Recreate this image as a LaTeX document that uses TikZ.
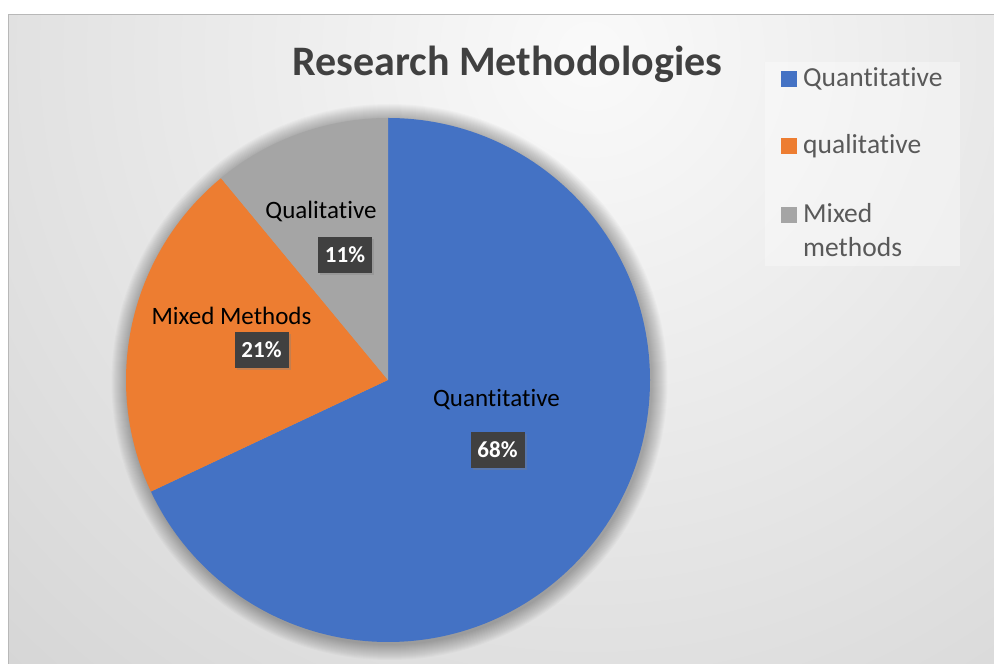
\documentclass[tikz,border=0pt]{standalone}
\usepackage{fontspec}
\setmainfont{Carlito}[RawFeature={-liga;-clig;-dlig;-calt}]
\usetikzlibrary{shadows,calc}
\definecolor{cblue}{HTML}{4472C4}
\definecolor{corange}{HTML}{ED7D31}
\definecolor{cgray}{HTML}{A5A5A5}
\definecolor{titlecol}{HTML}{404040}
\definecolor{legcol}{HTML}{595959}
\definecolor{boxcol}{HTML}{404040}
\tikzset{
  slicelabel/.style={anchor=base, text=black, font=\fontsize{25}{30}\selectfont, inner sep=0pt},
  pctbox/.style={fill=boxcol, text=white, font=\bfseries\fontsize{23}{27}\selectfont,
    minimum width=54pt, minimum height=36pt, inner sep=0pt,
    drop shadow={opacity=0.35, shadow xshift=2pt, shadow yshift=-2pt}},
  legtext/.style={anchor=base west, text=legcol, font=\fontsize{27.5}{33}\selectfont, inner sep=0pt, align=left},
  legsq/.style={minimum size=16pt, inner sep=0pt, anchor=south west}
}
\begin{document}
\begin{tikzpicture}[x=1pt,y=1pt]
\useasboundingbox (0,0) rectangle (994,664);
% background
\begin{scope}
\clip (8,0) rectangle (994,649);
\shade[inner color=black!2, outer color=black!32] (590,610) circle (1800pt);
\end{scope}
\draw[black!28, line width=1pt] (8,0) -- (8,649) -- (994,649);
% pie shadow
\coordinate (C) at (388,284);
\coordinate (CS) at (389.5,282);
\foreach \i in {1,...,16} {
  \fill[black, opacity=0.018] (CS) circle ({262pt+\i*1pt});
}
% slices
\fill[cblue] (C) -- ++(90:262pt) arc[start angle=90, end angle=-154.8, radius=262pt] -- cycle;
\fill[corange] (C) -- ++(205.2:262pt) arc[start angle=205.2, end angle=129.6, radius=262pt] -- cycle;
\fill[cgray] (C) -- ++(129.6:262pt) arc[start angle=129.6, end angle=90, radius=262pt] -- cycle;
% title
\node[anchor=base, text=titlecol, font=\bfseries\fontsize{42}{50}\selectfont, inner sep=0pt] (title) at (507.5,588) {Research Methodologies};
% slice labels
\node[slicelabel] (lq) at (321,445) {Qualit\kern0pt ative};
\node[pctbox] (pq) at (345,409) {11\%};
\node[slicelabel] (lm) at (231.5,339) {Mixed Methods};
\node[pctbox] (pm) at (261.5,314) {21\%};
\node[slicelabel] (ln) at (496.5,257) {Quant\kern0pt it\kern0pt ative};
\node[pctbox] (pn) at (497.5,214) {68\%};
% legend
\fill[white, opacity=0.35] (765,398) rectangle (960,602);
\node[legsq, fill=cblue] (s1) at (781,577) {};
\node[legtext] (t1) at (803,577) {Quant\kern0pt it\kern0pt ative};
\node[legsq, fill=corange] (s2) at (781,510) {};
\node[legtext] (t2) at (803,510) {qualit\kern0pt ative};
\node[legsq, fill=cgray] (s3) at (781,441) {};
\node[legtext] (t3) at (803,441) {Mixed};
\node[legtext] (t4) at (803,407) {methods};
\end{tikzpicture}
\end{document}
